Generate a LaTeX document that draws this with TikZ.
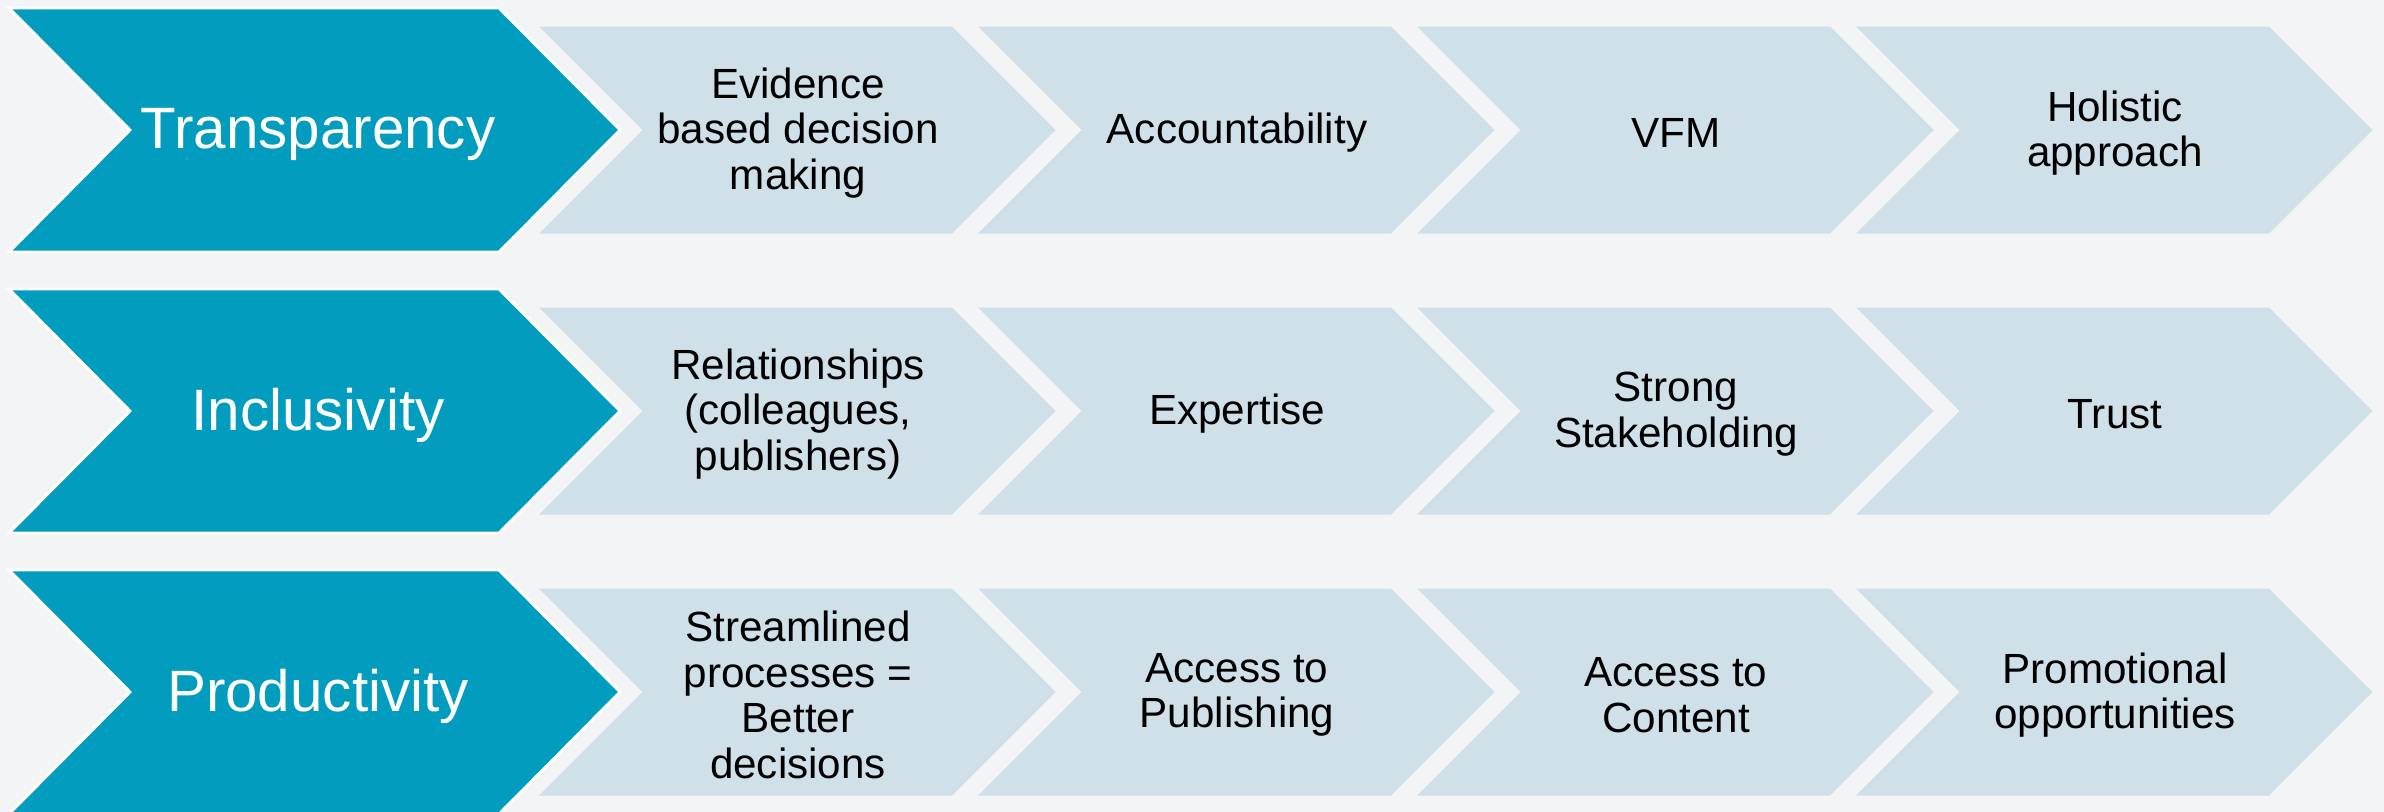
\documentclass[tikz,border=0pt]{standalone}
\usepackage{fontspec}
\setmainfont{Liberation Sans}
\definecolor{bgc}{RGB}{243,244,246}
\definecolor{darkc}{RGB}{2,156,190}
\definecolor{lightc}{RGB}{207,224,232}
\tikzset{
  lchev/.pic={\fill[lightc] (0,-103.5) -- (413,-103.5) -- (516.5,0) -- (413,103.5) -- (0,103.5) -- (103.5,0) -- cycle;},
  dchev/.pic={\filldraw[fill=darkc,draw=white,line width=0.8pt,line join=miter] (0,-122) -- (490,-122) -- (611,0) -- (490,122) -- (0,122) -- (121,0) -- cycle;},
  dtext/.style={text=white,font=\fontsize{16.6pt}{19pt}\selectfont,align=center,inner sep=0pt},
  ltext/.style={text=black,font=\fontsize{12pt}{12.95pt}\selectfont,align=center,inner sep=0pt}
}
\begin{document}
\begin{tikzpicture}[x=0.01cm,y=-0.01cm]
\useasboundingbox (0,0) rectangle (2384,812);
\fill[bgc] (0,0) rectangle (2384,812);
\foreach \yy in {130,411,692}{
  \foreach \xx in {539,978,1417,1856}{
    \pic at (\xx,\yy) {lchev};
  }
  \pic at (9,\yy) {dchev};
}
% row 1
\node[dtext] (d1) at (318,134) {Transparency};
\node[ltext] (t11) at (798,133) {Evidence\\based decision\\making};
\node[ltext] (t12) at (1237,133) {Accountability};
\node[ltext] (t13) at (1676,133) {VFM};
\node[ltext] (t14) at (2115,133) {Holistic\\approach};
% row 2
\node[dtext] (d2) at (318,415) {Inclusivity};
\node[ltext] (t21) at (798,414) {Relationships\\(colleagues,\\publishers)};
\node[ltext] (t22) at (1237,414) {Expertise};
\node[ltext] (t23) at (1676,414) {Strong\\Stakeholding};
\node[ltext] (t24) at (2115,414) {Trust};
% row 3
\node[dtext] (d3) at (318,696) {Productivity};
\node[ltext] (t31) at (798,695) {Streamlined\\processes =\\Better\\decisions};
\node[ltext] (t32) at (1237,695) {Access to\\Publishing};
\node[ltext] (t33) at (1676,695) {Access to\\Content};
\node[ltext] (t34) at (2115,695) {Promotional\\opportunities};
\end{tikzpicture}
\end{document}
